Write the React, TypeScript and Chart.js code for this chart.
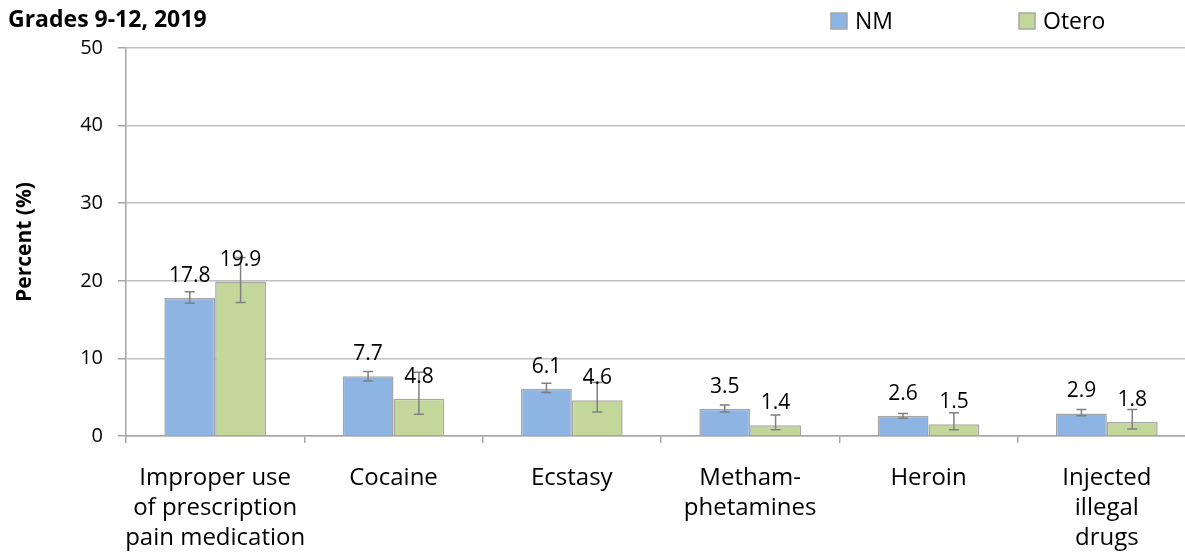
import React, { useEffect, useRef } from "react";
import { Chart, registerables } from "chart.js";

Chart.register(...registerables);

const chartTitle = "Grades 9-12, 2019";
const yAxisTitle = "Percent (%)";
const categories = [
  ["Improper use", "of prescription", "pain medication"],
  ["Cocaine"],
  ["Ecstasy"],
  ["Metham-", "phetamines"],
  ["Heroin"],
  ["Injected", "illegal", "drugs"],
];
const seriesNames = ["NM", "Otero"];
const nmValues = [17.8, 7.7, 6.1, 3.5, 2.6, 2.9];
const oteroValues = [19.9, 4.8, 4.6, 1.4, 1.5, 1.8];
const nmLow = [17.1, 7.1, 5.6, 3.1, 2.3, 2.6];
const nmHigh = [18.6, 8.3, 6.8, 4.0, 2.9, 3.4];
const oteroLow = [17.2, 2.8, 3.1, 0.8, 0.8, 0.9];
const oteroHigh = [23.0, 8.2, 6.9, 2.7, 3.0, 3.4];
const yTicks = [0, 10, 20, 30, 40, 50];

const seriesColors = ["#8DB4E2", "#C4D79B"];
const FONT = '"Open Sans", "Noto Sans", sans-serif';

const overlayPlugin = {
  id: "overlay",
  afterDatasetsDraw(chart: any) {
    const ctx = chart.ctx;
    const ys = chart.scales.y;
    ctx.save();
    chart.data.datasets.forEach((ds: any, di: number) => {
      const meta = chart.getDatasetMeta(di);
      meta.data.forEach((bar: any, i: number) => {
        const lo = ys.getPixelForValue(ds.errLow[i]);
        const hi = ys.getPixelForValue(ds.errHigh[i]);
        ctx.strokeStyle = "#808080";
        ctx.lineWidth = 1.5;
        ctx.beginPath();
        ctx.moveTo(bar.x, lo);
        ctx.lineTo(bar.x, hi);
        ctx.moveTo(bar.x - 5, lo);
        ctx.lineTo(bar.x + 5, lo);
        ctx.moveTo(bar.x - 5, hi);
        ctx.lineTo(bar.x + 5, hi);
        ctx.stroke();
      });
    });
    chart.data.datasets.forEach((ds: any, di: number) => {
      const meta = chart.getDatasetMeta(di);
      meta.data.forEach((bar: any, i: number) => {
        ctx.fillStyle = "#000";
        ctx.font = `21px ${FONT}`;
        ctx.textAlign = "center";
        ctx.textBaseline = "alphabetic";
        ctx.fillText(Number(ds.data[i]).toFixed(1), bar.x, bar.y - 16);
      });
    });
    ctx.restore();
  },
  afterDraw(chart: any) {
    const ctx = chart.ctx;
    ctx.save();
    // title
    ctx.fillStyle = "#000";
    ctx.font = `bold 23px ${FONT}`;
    ctx.textAlign = "left";
    ctx.textBaseline = "alphabetic";
    ctx.fillText(chartTitle, 8, 27);
    // legend
    const legendX = [831, 1019];
    chart.data.datasets.forEach((ds: any, di: number) => {
      const x = legendX[di];
      ctx.fillStyle = ds.backgroundColor;
      ctx.fillRect(x, 13, 16, 16);
      ctx.strokeStyle = "#A6A6A6";
      ctx.lineWidth = 1.5;
      ctx.strokeRect(x, 13, 16, 16);
      ctx.fillStyle = "#000";
      ctx.font = `23px ${FONT}`;
      ctx.textAlign = "left";
      ctx.textBaseline = "middle";
      ctx.fillText(ds.label, x + 24, 22);
    });
    ctx.restore();
  },
};

export default function App() {
  const canvasRef = useRef<HTMLCanvasElement>(null);

  useEffect(() => {
    if (!canvasRef.current) return;
    const chart = new Chart(canvasRef.current, {
      type: "bar",
      data: {
        labels: categories,
        datasets: [
          {
            label: seriesNames[0],
            data: nmValues,
            errLow: nmLow,
            errHigh: nmHigh,
            backgroundColor: seriesColors[0],
            borderColor: "#A6A6A6",
            borderWidth: 1.5,
          } as any,
          {
            label: seriesNames[1],
            data: oteroValues,
            errLow: oteroLow,
            errHigh: oteroHigh,
            backgroundColor: seriesColors[1],
            borderColor: "#A6A6A6",
            borderWidth: 1.5,
          } as any,
        ],
      },
      options: {
        animation: false,
        responsive: true,
        maintainAspectRatio: false,
        layout: { padding: { top: 48, right: 4, left: 0, bottom: 0 } },
        datasets: { bar: { categoryPercentage: 0.57, barPercentage: 1 } },
        plugins: {
          legend: { display: false },
          title: { display: false },
          tooltip: { enabled: false },
        },
        scales: {
          x: {
            afterFit: (s: any) => {
              s.height = 122;
            },
            grid: {
              drawOnChartArea: false,
              drawTicks: true,
              tickLength: 7,
              color: "#A6A6A6",
              lineWidth: 1.5,
              offset: true,
            },
            border: { color: "#A6A6A6", width: 1.5 },
            ticks: {
              color: "#000",
              padding: 20,
              maxRotation: 0,
              autoSkip: false,
              font: { family: FONT, size: 24, lineHeight: 1.25 },
            },
          },
          y: {
            min: yTicks[0],
            max: yTicks[yTicks.length - 1],
            afterFit: (s: any) => {
              s.width = 126;
            },
            afterBuildTicks: (s: any) => {
              s.ticks = yTicks.map((v) => ({ value: v }));
            },
            grid: {
              color: "#C0C0C0",
              lineWidth: 1.5,
              tickLength: 8,
              tickColor: "#A6A6A6",
            },
            border: { color: "#A6A6A6", width: 1.5 },
            ticks: {
              color: "#000",
              padding: 15,
              font: { family: FONT, size: 20 },
            },
            title: {
              display: true,
              text: yAxisTitle,
              color: "#000",
              padding: { top: 12, bottom: 0 },
              font: { family: FONT, size: 21, weight: "bold" },
            },
          },
        },
      },
      plugins: [overlayPlugin],
    });
    return () => chart.destroy();
  }, []);

  return (
    <div
      style={{
        position: "fixed",
        left: 0,
        top: 0,
        width: 1185,
        height: 558,
        overflow: "hidden",
        background: "#fff",
      }}
    >
      <div style={{ position: "relative", width: 1200, height: 558 }}>
        <canvas ref={canvasRef} />
      </div>
    </div>
  );
}
